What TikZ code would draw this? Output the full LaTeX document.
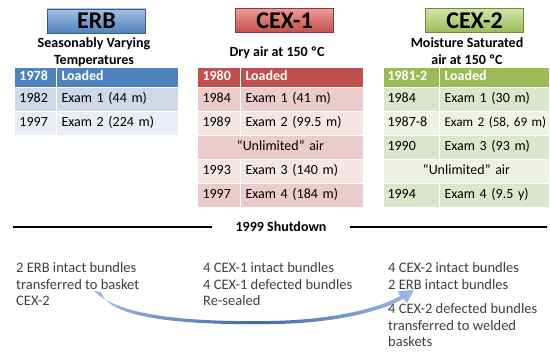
\documentclass[tikz,border=0pt]{standalone}
\usepackage{fontspec}
\setmainfont{Carlito}
\usepackage{tikz}
\usetikzlibrary{positioning}

\definecolor{erbblue}{HTML}{4F81BD}
\definecolor{erbtop}{HTML}{A7C0E3}
\definecolor{erbedge}{HTML}{385D8A}
\definecolor{erbbandA}{HTML}{D0D8E8}
\definecolor{erbbandB}{HTML}{E9EDF4}
\definecolor{cexred}{HTML}{C0504D}
\definecolor{redtop}{HTML}{F09A98}
\definecolor{rededge}{HTML}{8C3836}
\definecolor{redbandA}{HTML}{EBCCCB}
\definecolor{redbandB}{HTML}{F5E6E6}
\definecolor{cexgreen}{HTML}{9BBB59}
\definecolor{grntop}{HTML}{D3E4A8}
\definecolor{grnedge}{HTML}{71893F}
\definecolor{grnbandA}{HTML}{DCE6CA}
\definecolor{grnbandB}{HTML}{EDF2E3}
\definecolor{notegray}{HTML}{404040}
\definecolor{arrowlight}{HTML}{9DBBE3}
\definecolor{arrowdark}{HTML}{3F67A6}

\tikzset{
  titlebox/.style={draw, line width=0.8pt, minimum width=98, minimum height=24,
    inner sep=0pt, font=\fontsize{24}{24}\selectfont\bfseries},
  subtitle/.style={align=center, inner sep=0pt, font=\fontsize{14}{17}\selectfont\bfseries},
  cell/.style 2 args={fill=#1, text width=#2, draw=white, line width=1pt,
    anchor=north west, inner xsep=5pt, inner ysep=0pt, minimum height=24,
    align=left, text height=9.5pt, text depth=3pt, font=\fontsize{14}{16}\selectfont},
  headcell/.style={minimum height=20, text=white, font=\fontsize{14}{16}\selectfont\bfseries},
  note/.style={anchor=north west, align=left, inner sep=0pt, text=notegray,
    font=\fontsize{14.5}{16.6}\selectfont}
}

\begin{document}
\begin{tikzpicture}[x=1pt, y=-1pt]
\useasboundingbox (0,0) rectangle (550,353);

% ERB
\node[titlebox, draw=erbedge, top color=erbtop, bottom color=erbblue] (t1) at (96.5,21) {ERB};
\node[subtitle] (s1) at (94,52) {Seasonably Varying\\Temperatures};

\node[cell={erbblue}{32}, headcell] (e0y) at (14,67) {1978};
\node[cell={erbblue}{112}, headcell] (e0t) at (56,67) {Loaded};
\node[cell={erbbandA}{32}] (e1y) at (14,87) {1982};
\node[cell={erbbandA}{112}] (e1t) at (56,87) {Exam 1 (44 m)};
\node[cell={erbbandB}{32}] (e2y) at (14,111) {1997};
\node[cell={erbbandB}{112}] (e2t) at (56,111) {Exam 2 (224 m)};

% CEX-1
\node[titlebox, draw=rededge, top color=redtop, bottom color=cexred] (t2) at (284.5,20.5) {CEX-1};
\node[subtitle] (s2) at (277,53) {Dry air at 150 ºC};

\node[cell={cexred}{33}, headcell] (a0y) at (197,67) {1980};
\node[cell={cexred}{113}, headcell] (a0t) at (240,67) {Loaded};
\node[cell={redbandA}{33}] (a1y) at (197,87) {1984};
\node[cell={redbandA}{113}] (a1t) at (240,87) {Exam 1 (41 m)};
\node[cell={redbandB}{33}] (a2y) at (197,111) {1989};
\node[cell={redbandB}{113}] (a2t) at (240,111) {Exam 2 (99.5 m)};
\node[cell={redbandA}{156}, align=center] (a3) at (197,135) {“Unlimited” air};
\node[cell={redbandB}{33}] (a4y) at (197,159) {1993};
\node[cell={redbandB}{113}] (a4t) at (240,159) {Exam 3 (140 m)};
\node[cell={redbandA}{33}] (a5y) at (197,183) {1997};
\node[cell={redbandA}{113}] (a5t) at (240,183) {Exam 4 (184 m)};

% CEX-2
\node[titlebox, draw=grnedge, top color=grntop, bottom color=cexgreen] (t3) at (474.5,20.5) {CEX-2};
\node[subtitle] (s3) at (467,51) {Moisture Saturated\\air at 150 ºC};

\node[cell={cexgreen}{48}, headcell, inner xsep=4pt] (b0y) at (383,67) {1981-2};
\node[cell={cexgreen}{104}, headcell, inner xsep=3pt] (b0t) at (439,67) {\hspace*{2pt}Loaded};
\node[cell={grnbandA}{48}, inner xsep=4pt] (b1y) at (383,87) {1984};
\node[cell={grnbandA}{104}, inner xsep=3pt] (b1t) at (439,87) {\hspace*{2pt}Exam 1 (30 m)};
\node[cell={grnbandB}{48}, inner xsep=4pt] (b2y) at (383,111) {1987-8};
\node[cell={grnbandB}{104}, inner xsep=3pt, font=\fontsize{13.2}{16}\selectfont] (b2t) at (439,111) {\hspace*{2pt}\mbox{Exam 2 (58, 69 m)}};
\node[cell={grnbandA}{48}, inner xsep=4pt] (b3y) at (383,135) {1990};
\node[cell={grnbandA}{104}, inner xsep=3pt] (b3t) at (439,135) {\hspace*{2pt}Exam 3 (93 m)};
\node[cell={grnbandB}{156}, align=center] (b4) at (383,159) {“Unlimited” air};
\node[cell={grnbandA}{48}, inner xsep=4pt] (b5y) at (383,183) {1994};
\node[cell={grnbandA}{104}, inner xsep=3pt] (b5t) at (439,183) {\hspace*{2pt}Exam 4 (9.5 y)};

% shutdown line
\node[inner xsep=23pt, font=\fontsize{14}{16}\selectfont\bfseries] (sd) at (281,227) {1999 Shutdown};
\coordinate (l0) at (13,227);
\coordinate (r0) at (547,227);
\draw[line width=1.5pt] (l0) -- (sd.west);
\draw[line width=1.5pt] (sd.east) -- (r0);

% after shutdown
\node[note] (n1) at (16,262.5) {2 ERB intact bundles\\transferred to basket\\CEX-2};
\node[note] (n2) at (203,262.5) {4 CEX-1 intact bundles\\4 CEX-1 defected bundles\\Re-sealed};
\node[note] (n3) at (388,262.5) {4 CEX-2 intact bundles\\2 ERB intact bundles};
\node[note] (n4) at (388,303.5) {4 CEX-2 defected bundles\\transferred to welded\\baskets};

% transfer arrow
\shade[left color=arrowlight, right color=arrowlight, middle color=arrowdark]
  (94,291) .. controls (120,318) and (200,322) .. (270,321)
  .. controls (330,320) and (378,309) .. (400,296)
  -- (398,291) -- (414,290) -- (407,303) -- (403,299)
  .. controls (380,312) and (330,324) .. (270,324)
  .. controls (195,325) and (110,321) .. (101,292) -- cycle;

\end{tikzpicture}
\end{document}
